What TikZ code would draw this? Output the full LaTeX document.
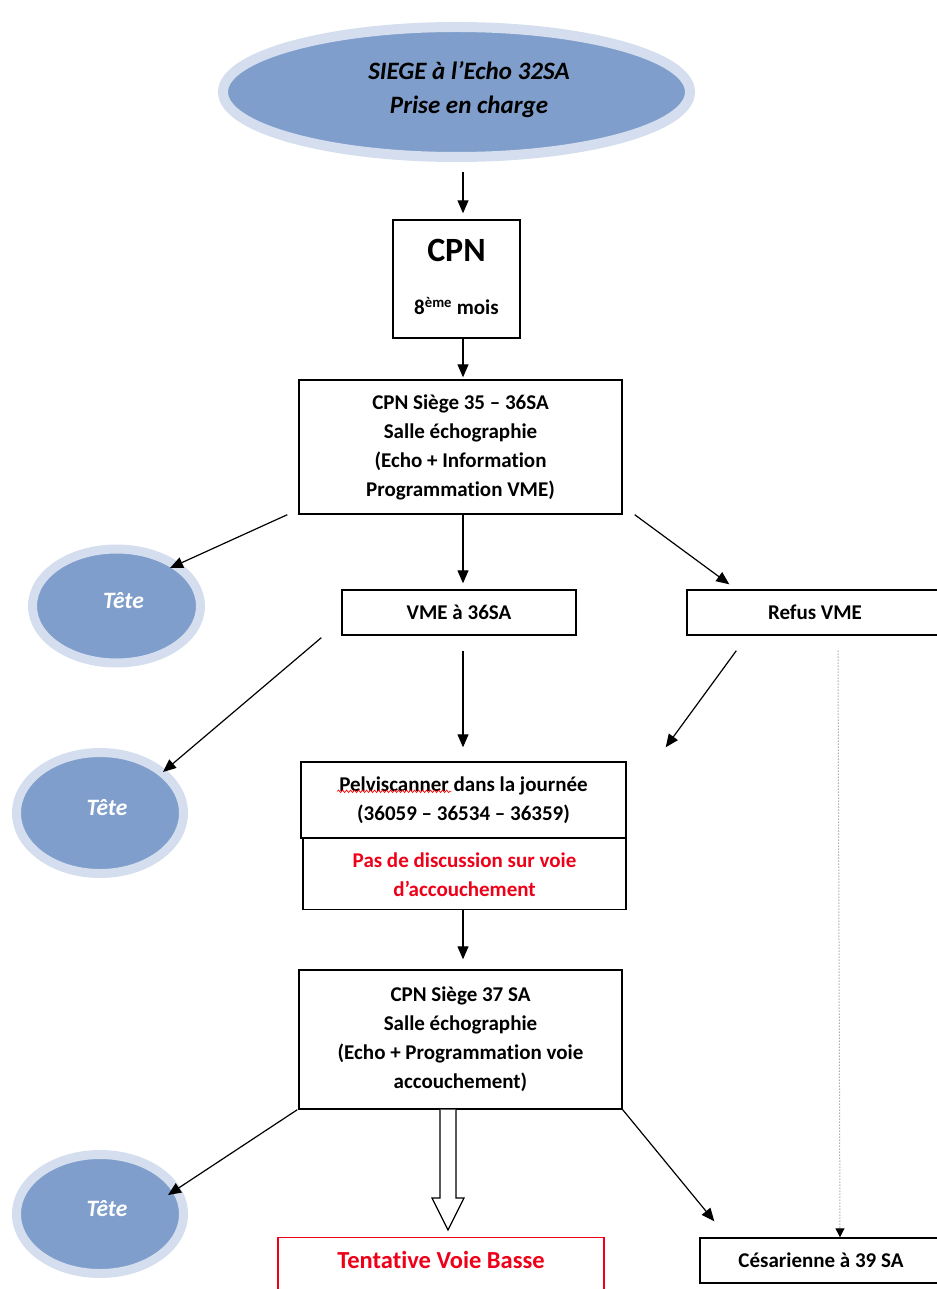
\documentclass[tikz,border=0pt]{standalone}
\usepackage{fontspec}
\setmainfont{Carlito}[Ligatures=NoCommon]
\usetikzlibrary{arrows.meta,shapes.geometric,calc,decorations.pathmorphing}
\definecolor{bluefill}{RGB}{127,158,203}
\definecolor{halo}{RGB}{212,222,238}
\definecolor{alert}{RGB}{238,0,24}
\newcommand\tetetxt{\raisebox{12pt}{\hspace*{14pt}Tête}}
\begin{document}
\begin{tikzpicture}[x=1pt,y=-1pt,
  box/.style={draw=black, line width=1.4pt, align=center, inner sep=0pt, font=\fontsize{21}{29}\selectfont\bfseries},
  bubble/.style={ellipse, draw=halo, line width=9pt, fill=bluefill, inner sep=0pt, text=white, font=\fontsize{23.5}{28}\selectfont\bfseries\itshape},
  arr/.style={-{Triangle[length=13pt,width=11pt]}, line width=1.2pt},
  dotarr/.style={dotted, draw=gray, line width=1pt, -{Triangle[length=9pt,width=9pt,color=black,fill=black]}},
  lbl/.style={inner sep=0pt, align=center}]
\useasboundingbox (0,0) rectangle (936,1289);

% top ellipse
\node[ellipse, draw=halo, line width=10pt, fill=bluefill, minimum width=467pt, minimum height=130pt, inner sep=0pt] (top) at (456.5,92) {};
\node[lbl, font=\fontsize{25}{34}\selectfont\bfseries\itshape] (toptext) at (469,90) {SIEGE à l’Echo 32SA\\Prise en charge};

% CPN
\node[box, minimum width=127pt, minimum height=118pt] (cpn) at (456.5,279) {};
\node[lbl, font=\fontsize{34}{40}\selectfont\bfseries] (cpnA) at (456.5,250) {CPN};
\node[lbl, font=\fontsize{21}{29}\selectfont\bfseries] (cpnB) at (456.5,306) {8\textsuperscript{ème} mois};

\node[box, minimum width=323pt, minimum height=134pt] (b35) at (460.5,447) {CPN Siège 35 – 36SA\\Salle échographie\\(Echo + Information\\Programmation VME)};

\node[bubble, minimum width=168pt, minimum height=114pt] (t1) at (116.5,606) {\tetetxt};
\node[box, minimum width=234pt, minimum height=45pt] (vme) at (459,612.5) {VME à 36SA};
\node[box, minimum width=256pt, minimum height=45pt] (refus) at (815,612.5) {Refus VME};

\node[bubble, minimum width=167pt, minimum height=121pt] (t2) at (100,813) {\tetetxt};
\node[box, minimum width=325pt, minimum height=76pt] (pelvi) at (463.5,800) {Pelviscanner dans la journée\\(36059 – 36534 – 36359)};
\node[box, minimum width=323pt, minimum height=71pt, text=alert, anchor=north] (pas) at (464.5,838) {Pas de discussion sur voie\\d’accouchement};

\node[box, minimum width=323pt, minimum height=139pt] (b37) at (460.5,1039.5) {CPN Siège 37 SA\\Salle échographie\\(Echo + Programmation voie\\accouchement)};
\node[bubble, minimum width=167pt, minimum height=119pt] (t3) at (100,1214) {\tetetxt};
\node[box, draw=alert, text=alert, minimum width=326pt, anchor=north, font=\fontsize{24.5}{30}\selectfont\bfseries, text height=31pt, text depth=50pt] (tvb) at (441,1237) {Tentative Voie Basse};
\node[box, minimum width=242pt, minimum height=45pt] (ces) at (821,1260.5) {Césarienne à 39 SA};

% spell-check underline
\draw[red, line width=0.7pt, decorate, decoration={snake, amplitude=1.2pt, segment length=4pt}] ($(pelvi.north west)+(37,30)$) -- ($(pelvi.north west)+(151,30)$);

% connectors
\draw[arr] ($(top.south)+(6.5,10)$) -- ($(cpn.north)+(6.5,-6)$);
\draw[arr] ($(cpn.south)+(6.5,0)$) -- ($(b35.north)+(2.5,-2)$);
\draw[arr] ($(b35.south west)+(-11,0)$) -- ($(t1.center)+(53.5,-38)$);
\draw[arr] ($(b35.south)+(2.5,0)$) -- ($(vme.north)+(4,-6)$);
\draw[arr] ($(b35.south east)+(12,0)$) -- ($(refus.north west)+(43,-5)$);
\draw[arr] ($(vme.south west)+(-20,2)$) -- ($(t2.center)+(63,-41)$);
\draw[arr] ($(vme.south)+(4,15)$) -- ($(pelvi.north)+(-0.5,-14)$);
\draw[arr] ($(refus.south west)+(50,15)$) -- ($(pelvi.north east)+(39,-14)$);
\draw[dotarr] ($(refus.south)+(23,15)$) -- ($(ces.north)+(19,0)$);
\draw[arr] ($(pas.south)+(-1.5,0)$) -- ($(b37.north)+(2.5,-10)$);
\draw[arr] ($(b37.south west)+(-1,0)$) -- ($(t3.center)+(68,-19)$);
\draw[arr] (b37.south east) -- ($(ces.north west)+(15,-16)$);

% hollow block arrow
\coordinate (hs) at ($(b37.south)+(-12.5,0)$);
\coordinate (ht) at ($(tvb.north -| hs)+(0,-7)$);
\draw[line width=1.2pt, fill=white] ($(hs)+(-8,0)$) -- ($(ht)+(-8,-32)$) -- ($(ht)+(-16,-32)$) -- (ht) -- ($(ht)+(16,-32)$) -- ($(ht)+(8,-32)$) -- ($(hs)+(8,0)$);
\end{tikzpicture}
\end{document}
